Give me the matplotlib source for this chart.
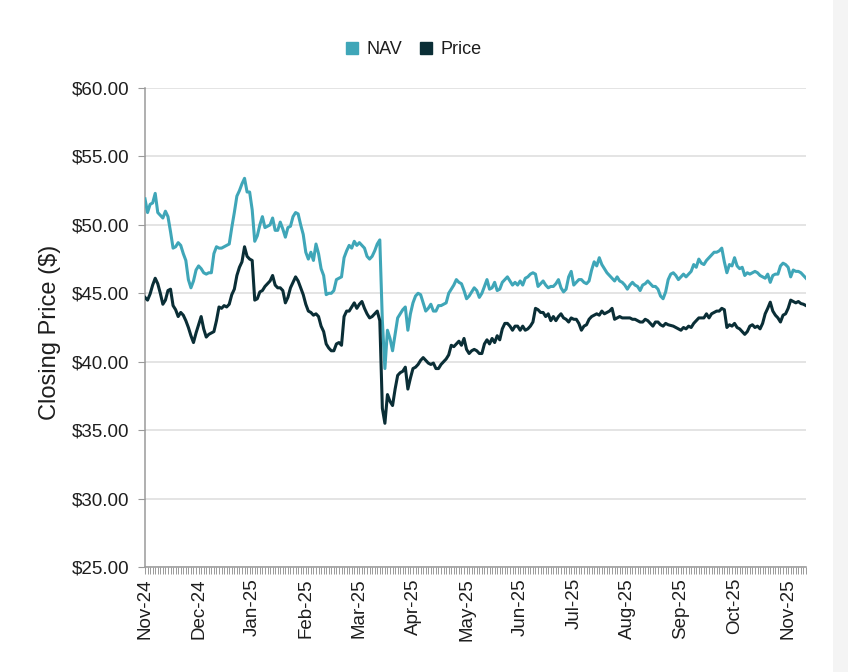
import matplotlib
matplotlib.use('Agg')
import matplotlib.pyplot as plt
from matplotlib.lines import Line2D
from matplotlib.patches import Rectangle
from matplotlib.ticker import FuncFormatter, FixedLocator, MultipleLocator
import numpy as np
import pandas as pd

plt.rcParams['font.family'] = ['Liberation Sans', 'DejaVu Sans']

# Jours de bourse (NYSE) du 1er nov. 2024 au 14 nov. 2025
jours_feries = ['2024-11-28', '2024-12-25', '2025-01-01', '2025-01-09', '2025-01-20',
                '2025-02-17', '2025-04-18', '2025-05-26', '2025-06-19', '2025-07-04',
                '2025-09-01']
debut, fin = '2024-11-01', '2025-11-14'

# Valeur liquidative (NAV)
nav = [51.9, 50.9, 51.5, 51.6, 52.3, 50.9, 50.7, 50.5, 51.0, 50.6,
       49.5, 48.3, 48.4, 48.7, 48.5, 47.9, 47.4, 46.0, 45.4, 45.9,
       46.7, 47.0, 46.8, 46.5, 46.4, 46.5, 46.5, 47.9, 48.4, 48.3,
       48.3, 48.4, 48.5, 48.6, 49.8, 50.9, 52.1, 52.5, 53.0, 53.4,
       52.4, 52.4, 51.1, 48.8, 49.2, 50.0, 50.6, 49.8, 49.9, 50.0,
       50.5, 49.6, 49.6, 50.2, 49.7, 49.1, 49.8, 49.9, 50.6, 50.9,
       50.8, 50.0, 49.3, 48.0, 47.5, 48.0, 47.4, 48.6, 47.9, 46.8,
       46.3, 44.9, 45.0, 45.0, 45.2, 46.0, 46.1, 46.2, 47.6, 48.1,
       48.5, 48.3, 48.8, 48.5, 48.7, 48.5, 48.3, 47.7, 47.5, 47.7,
       48.1, 48.6, 48.9, 43.0, 39.5, 42.3, 41.7, 40.8, 42.0, 43.2,
       43.5, 43.8, 44.0, 42.3, 43.5, 44.3, 44.8, 45.0, 44.9, 44.3,
       43.7, 43.9, 44.2, 43.7, 43.7, 44.1, 44.1, 44.2, 44.3, 45.0,
       45.3, 45.6, 46.0, 45.8, 45.7, 45.2, 44.6, 44.8, 45.1, 45.4,
       45.2, 44.7, 45.0, 45.5, 46.0, 45.3, 45.4, 45.8, 45.2, 45.3,
       45.8, 46.0, 46.2, 45.9, 45.6, 45.8, 45.6, 45.9, 45.6, 46.1,
       46.2, 46.4, 46.5, 46.4, 45.5, 45.7, 45.9, 45.6, 45.4, 45.5,
       45.5, 45.7, 46.0, 45.4, 45.1, 45.3, 46.2, 46.6, 45.6, 45.8,
       46.0, 46.0, 45.8, 45.7, 45.9, 46.7, 47.3, 47.0, 47.6, 47.1,
       46.8, 46.5, 46.3, 46.1, 45.9, 46.2, 45.9, 45.8, 45.6, 45.3,
       45.6, 45.8, 45.6, 45.5, 45.2, 45.6, 45.7, 45.9, 45.7, 45.5,
       45.5, 45.3, 44.8, 44.6, 45.1, 46.0, 46.4, 46.5, 46.3, 46.0,
       46.2, 46.4, 46.2, 46.4, 46.6, 47.1, 46.9, 47.5, 47.2, 47.1,
       47.4, 47.6, 47.8, 48.0, 48.0, 48.1, 48.3, 47.3, 46.5, 47.1,
       47.0, 47.6, 47.0, 46.8, 46.9, 46.3, 46.5, 46.4, 46.5, 46.6,
       46.5, 46.3, 46.2, 46.1, 46.4, 45.8, 46.3, 46.4, 46.4, 47.0,
       47.2, 47.1, 46.9, 46.2, 46.7, 46.6, 46.6, 46.5, 46.3, 46.1]

# Cours de clôture (Price)
price = [44.7, 44.5, 44.95, 45.6, 46.1, 45.7, 45.0, 44.2, 44.5, 45.2,
         45.3, 44.1, 43.8, 43.3, 43.6, 43.4, 43.0, 42.5, 41.9, 41.4,
         42.1, 42.7, 43.3, 42.4, 41.8, 42.0, 42.1, 42.2, 43.0, 44.0,
         43.9, 44.1, 44.0, 44.2, 44.9, 45.3, 46.3, 46.9, 47.3, 48.4,
         47.7, 47.5, 47.4, 44.5, 44.6, 45.1, 45.2, 45.5, 45.7, 45.9,
         46.3, 45.6, 45.4, 45.4, 45.2, 44.3, 44.7, 45.4, 45.8, 46.2,
         45.9, 45.4, 44.9, 44.2, 43.7, 43.6, 43.4, 43.5, 43.3, 42.6,
         42.2, 41.3, 41.0, 40.8, 40.8, 41.3, 41.4, 41.2, 43.3, 43.7,
         43.7, 44.0, 44.3, 43.9, 44.2, 44.4, 43.9, 43.5, 43.2, 43.3,
         43.5, 43.7, 43.0, 36.6, 35.5, 37.6, 37.1, 36.8, 38.0, 39.0,
         39.2, 39.3, 39.6, 38.0, 38.8, 39.5, 39.6, 39.8, 40.1, 40.3,
         40.1, 39.9, 39.8, 39.9, 39.5, 39.5, 39.8, 40.0, 40.2, 40.5,
         41.2, 41.1, 41.3, 41.5, 41.2, 41.7, 40.9, 40.6, 40.8, 40.9,
         40.8, 40.6, 40.6, 41.3, 41.6, 41.3, 41.7, 41.4, 41.9, 41.6,
         42.4, 42.8, 42.8, 42.6, 42.3, 42.6, 42.6, 42.3, 42.6, 42.3,
         42.4, 42.6, 42.9, 43.9, 43.8, 43.6, 43.6, 43.3, 43.5, 43.0,
         43.3, 43.0, 43.3, 43.5, 43.2, 43.1, 42.9, 43.2, 43.1, 43.1,
         42.8, 42.3, 42.6, 42.7, 43.1, 43.3, 43.4, 43.5, 43.4, 43.7,
         43.5, 43.6, 43.7, 43.9, 43.1, 43.2, 43.3, 43.2, 43.2, 43.2,
         43.2, 43.1, 43.1, 43.0, 42.9, 42.9, 43.1, 43.0, 42.8, 42.6,
         42.9, 42.9, 42.7, 42.6, 42.8, 42.7, 42.65, 42.6, 42.5, 42.4,
         42.3, 42.5, 42.4, 42.6, 42.5, 42.8, 43.0, 43.2, 43.2, 43.2,
         43.5, 43.2, 43.5, 43.6, 43.7, 43.7, 43.9, 43.8, 42.5, 42.7,
         42.6, 42.8, 42.5, 42.4, 42.2, 42.0, 42.2, 42.6, 42.7, 42.5,
         42.6, 42.4, 42.8, 43.5, 43.9, 44.35, 43.7, 43.4, 43.2, 42.9,
         43.4, 43.5, 43.9, 44.5, 44.4, 44.3, 44.4, 44.25, 44.2, 44.1]

intervalle_etiquettes = 21  # une étiquette tous les 21 jours de bourse

dates = pd.bdate_range(debut, fin, freq='C', holidays=jours_feries)
n = min(len(dates), len(nav), len(price))
dates = dates[:n]
x = np.arange(n)

couleur_nav = '#3fa6b8'
couleur_prix = '#0a2e36'
gris_axe = '#9a9a9a'
couleur_texte = '#1e1e1e'

fig = plt.figure(figsize=(8.48, 6.72), dpi=100)
fig.set_facecolor('white')
ax = fig.add_axes([145 / 848, 1 - 567 / 672, 661 / 848, 479 / 672])

# bandeau gris à droite (cadre de la page)
fig.patches.append(Rectangle((833 / 848, 0), 15 / 848, 1, transform=fig.transFigure,
                             facecolor='#f4f4f4', edgecolor='none', zorder=0))

ax.plot(x, nav[:n], color=couleur_nav, lw=2.2, zorder=3, solid_joinstyle='round')
ax.plot(x, price[:n], color=couleur_prix, lw=2.2, zorder=4, solid_joinstyle='round')

ax.set_xlim(0, n - 1)
ax.set_ylim(25, 60)
ax.yaxis.set_major_locator(MultipleLocator(5))
ax.yaxis.set_major_formatter(FuncFormatter(lambda v, p: f'${v:.2f}'))
ax.grid(axis='y', color='#e2e2e2', lw=1.3, zorder=0)
ax.set_axisbelow(True)

positions = list(range(0, n, intervalle_etiquettes))
ax.xaxis.set_major_locator(FixedLocator(positions))
ax.set_xticklabels([dates[i].strftime('%b-%y') for i in positions], rotation=90)
ax.xaxis.set_minor_locator(FixedLocator(x))

for cote in ['top', 'right']:
    ax.spines[cote].set_visible(False)
for cote in ['left', 'bottom']:
    ax.spines[cote].set_color(gris_axe)
    ax.spines[cote].set_linewidth(1.1)

ax.tick_params(axis='y', length=5, width=0.8, color=gris_axe, pad=6,
               labelsize=13.5, labelcolor=couleur_texte)
ax.tick_params(axis='x', which='both', length=5, width=0.7, color=gris_axe, pad=3,
               labelsize=13.5, labelcolor=couleur_texte)

ax.set_ylabel('Closing Price ($)', fontsize=17, color=couleur_texte)
ax.yaxis.set_label_coords(-0.127, 0.49)

poignees = [Line2D([], [], marker='s', linestyle='none', markersize=9,
                   color=couleur_nav, label='NAV'),
            Line2D([], [], marker='s', linestyle='none', markersize=9,
                   color=couleur_prix, label='Price')]
fig.legend(handles=poignees, loc='center', bbox_to_anchor=(0.487, 0.926), ncol=2,
           frameon=False, fontsize=13, handlelength=0.8, handletextpad=0.4,
           columnspacing=0.9, labelcolor=couleur_texte)

fig.savefig('out.png', dpi=100)
